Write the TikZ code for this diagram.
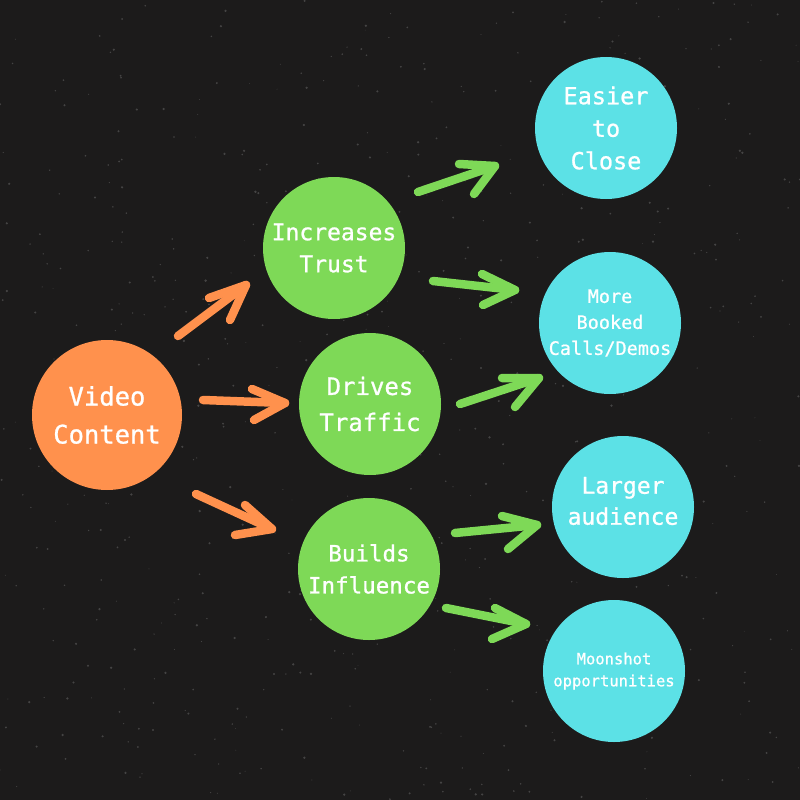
\documentclass[tikz,border=0pt]{standalone}
\usepackage{fontspec}
\newfontfamily\bubfont[FakeBold=0.9]{DejaVu Sans Mono}
\definecolor{bg}{RGB}{28,27,27}
\definecolor{vorange}{RGB}{255,145,77}
\definecolor{vgreen}{RGB}{126,217,87}
\definecolor{vcyan}{RGB}{92,225,230}
\begin{document}
\begin{tikzpicture}[x=1pt,y=-1pt,
  bubble/.style={circle, minimum size=142pt, inner sep=0pt, text=white, align=center},
  obub/.style={bubble, fill=vorange, minimum size=150pt},
  gbub/.style={bubble, fill=vgreen},
  cbub/.style={bubble, fill=vcyan},
  oarrow/.style={draw=vorange, line width=8.5pt, line cap=round, line join=round},
  garrow/.style={draw=vgreen, line width=8.5pt, line cap=round, line join=round},
  speck/.style={fill=white, opacity=0.18}]
\fill[bg] (0,0) rectangle (800,800);
\useasboundingbox (0,0) rectangle (800,800);
% texture specks
\pgfmathsetseed{7}
\foreach \i in {1,...,650}{
  \pgfmathsetmacro\px{rnd*800}
  \pgfmathsetmacro\py{rnd*800}
  \pgfmathsetmacro\pr{0.4+rnd*0.9}
  \fill[speck] (\px,\py) circle (\pr);
}
% nodes
\node[obub, font=\bubfont\fontsize{25.5}{38}\selectfont] (video) at (107,415) {Video\\Content};
\node[gbub, font=\bubfont\fontsize{23}{32}\selectfont] (trust) at (334,248) {Increases\\Trust};
\node[gbub, font=\bubfont\fontsize{24}{36}\selectfont] (traffic) at (370,404) {Drives\\Traffic};
\node[gbub, font=\bubfont\fontsize{22.5}{32}\selectfont] (influence) at (369,569) {Builds\\Influence};
\node[cbub, font=\bubfont\fontsize{23.5}{32.5}\selectfont] (close) at (606,128) {Easier\\to\\Close};
\node[cbub, font=\bubfont\fontsize{18.5}{26}\selectfont] (booked) at (610,323) {More\\Booked\\Calls/Demos};
\node[cbub] (audience) at (623,507) {};
\node[font=\bubfont\fontsize{23}{31}\selectfont, text=white, align=center] (audtext) at ([yshift=6pt]audience.center) {Larger\\audience};
\node[cbub, font=\bubfont\fontsize{15.5}{22}\selectfont] (moon) at (614,671) {Moonshot\\opportunities};
% arrow coordinates
\coordinate (o1s) at (178,336); \coordinate (o1t) at (246,285); \coordinate (o1a) at (209,298); \coordinate (o1b) at (230,320);
\coordinate (o2s) at (203,400); \coordinate (o2t) at (285,403); \coordinate (o2a) at (252,389); \coordinate (o2b) at (254,420);
\coordinate (o3s) at (196,494); \coordinate (o3t) at (272,529); \coordinate (o3a) at (245,505); \coordinate (o3b) at (235,535);
\coordinate (g1s) at (418,192); \coordinate (g1t) at (495,166); \coordinate (g1a) at (459,164); \coordinate (g1b) at (474,194);
\coordinate (g2s) at (433,281); \coordinate (g2t) at (515,290); \coordinate (g2a) at (482,274); \coordinate (g2b) at (483,305);
\coordinate (g3s) at (460,404); \coordinate (g3t) at (539,378); \coordinate (g3a) at (502,378); \coordinate (g3b) at (515,407);
\coordinate (g4s) at (455,533); \coordinate (g4t) at (537,525); \coordinate (g4a) at (502,516); \coordinate (g4b) at (508,549);
\coordinate (g5s) at (446,608); \coordinate (g5t) at (526,624); \coordinate (g5a) at (495,608); \coordinate (g5b) at (492,639);
% arrows
\foreach \n in {o1,o2,o3}{
  \draw[oarrow] (\n s) -- (\n t);
  \draw[oarrow] (\n a) -- (\n t) -- (\n b);
}
\foreach \n in {g1,g2,g3,g4,g5}{
  \draw[garrow] (\n s) -- (\n t);
  \draw[garrow] (\n a) -- (\n t) -- (\n b);
}
\end{tikzpicture}
\end{document}
